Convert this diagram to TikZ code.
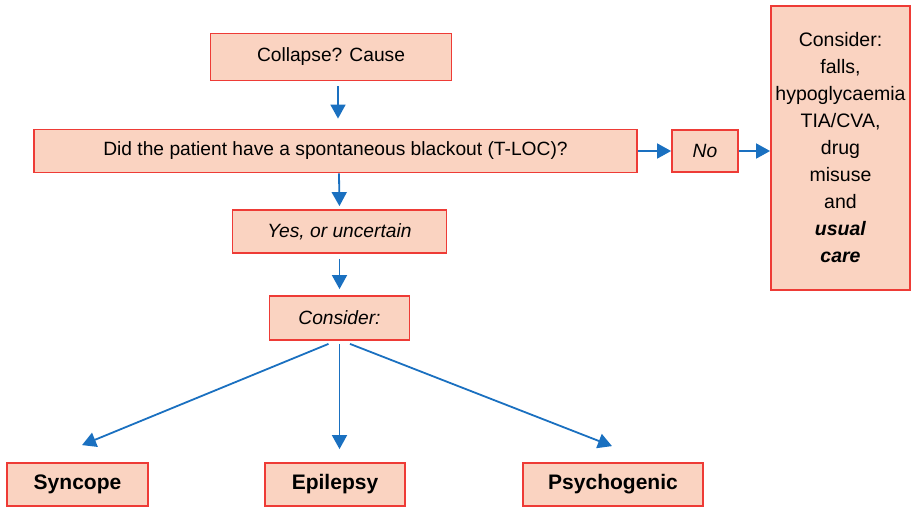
\documentclass[tikz,border=0pt]{standalone}
\usepackage{fontspec}
\setmainfont{Liberation Sans}
\usetikzlibrary{
  arrows.meta,
  calc,
  positioning,
}
\definecolor{boxfill}{HTML}{FAD3C1}
\definecolor{boxline}{HTML}{EE3B36}
\definecolor{arrowblue}{HTML}{1A70C0}
\tikzset{
  >={Triangle[width=15pt,length=14pt]},
  flowbox/.style={draw=boxline, fill=boxfill, line width=1.8pt, inner sep=0pt,
    font=\fontsize{19.2}{22}\selectfont},
  resultbox/.style={flowbox, minimum height=43pt, font=\fontsize{21}{24}\selectfont\bfseries},
  flowarrow/.style={->, draw=arrowblue, line width=1.8pt},
}

\begin{document}
\begin{tikzpicture}[x=1pt,y=-1pt]
      \useasboundingbox (0,0) rectangle (911,507);
      \node[flowbox, minimum width=241pt, minimum height=47pt] (collapse) at (331,57) {Collapse? Cause};
      \node[flowbox, minimum width=603pt, minimum height=43pt] (blackout) at (335.5,151)
        {Did the patient have a spontaneous blackout (T-LOC)?};
      \node[flowbox, minimum width=214pt, minimum height=43pt] (uncertain) at (339.5,231.5) {\itshape Yes, or uncertain};
      \node[flowbox, minimum width=140pt, minimum height=44pt] (consider) at (339.5,318) {\itshape Consider:};
      \node[flowbox, minimum width=66pt, minimum height=42pt] (no) at (705,151) {\itshape No};
      \node[flowbox, minimum width=139pt, minimum height=284pt, align=center,
        font=\fontsize{19.5}{27}\selectfont] (other) at (840.5,148)
        {Consider:\\falls,\\hypoglycaemia\\TIA/CVA,\\drug\\misuse\\and\\
         \textbf{\textit{usual}}\\\textbf{\textit{care}}};

      \foreach \n/\x/\w/\T in {
        syncope/77.5/141/Syncope,
        epilepsy/335/140/Epilepsy,
        psychogenic/613/180/Psychogenic
      } {
        \node[resultbox, minimum width=\w pt] (\n) at (\x,484.5) {\T};
      }

      \draw[flowarrow, shorten <=5pt, shorten >=10pt] ([xshift=7pt]collapse.south) -- ([xshift=2.5pt]blackout.north);
      \draw[flowarrow, shorten >=3pt] ([xshift=3.5pt]blackout.south) -- (uncertain.north);
      \draw[flowarrow, shorten <=5pt, shorten >=6pt] (uncertain) -- (consider);
      \draw[flowarrow] (blackout) -- (no);
      \draw[flowarrow] (no) -- (no -| other.west);

      \draw[flowarrow] ([xshift=-11pt,yshift=-3pt]consider.south) -- ([xshift=4.5pt,yshift=17pt]syncope.north);
      \draw[flowarrow, shorten <=3pt, shorten >=13pt] (consider.south) -- (consider.south |- epilepsy.north);
      \draw[flowarrow] ([xshift=10.5pt,yshift=-3pt]consider.south) -- ([xshift=-1pt,yshift=16pt]psychogenic.north);
    \end{tikzpicture}
\end{document}
